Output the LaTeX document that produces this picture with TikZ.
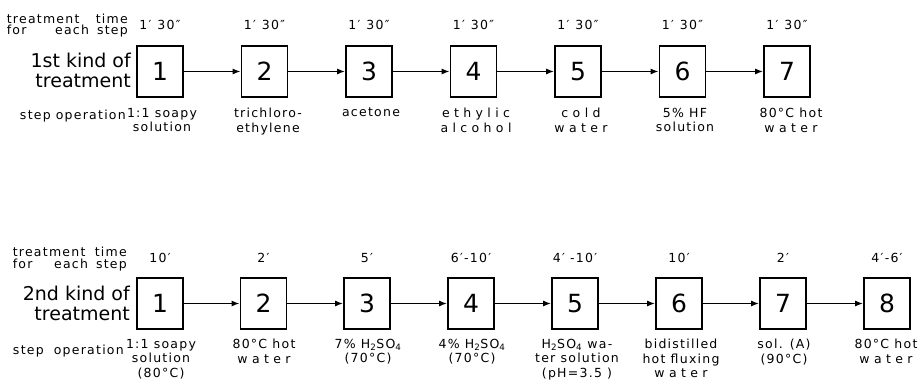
\documentclass[tikz,border=0pt]{standalone}
\usepackage{fontspec}
\setmainfont{DejaVu Sans}
\newfontfamily\lbfont[LetterSpace=10]{DejaVu Sans}
\newfontfamily\wdfont[LetterSpace=35]{DejaVu Sans}
\usetikzlibrary{arrows.meta}

\begin{document}
\begin{tikzpicture}[x=1pt,y=-1pt,
  stepbox/.style={draw, line width=1.7pt, minimum width=46pt, minimum height=51pt,
    inner sep=0pt, font=\fontsize{25}{25}\selectfont},
  flow/.style={line width=1.4pt, -{Latex[length=8pt,width=6pt]}},
  lbl/.style={font=\fontsize{12.5}{14.5}\selectfont\lbfont, align=center,
    inner sep=0pt, anchor=north},
  tlabel/.style={font=\fontsize{12.5}{14}\selectfont\lbfont, inner sep=0pt, anchor=base},
  kind/.style={font=\fontsize{19}{20}\selectfont, inner sep=0pt, anchor=base east},
  head/.style={font=\fontsize{12.5}{12}\selectfont\lbfont, inner sep=0pt, anchor=base east}
]
\useasboundingbox (0,0) rectangle (920,387);

% ---------- first kind of treatment ----------
\node[head] (h1a) at (128,24) {\makebox[121pt][s]{treatment\hfill time}};
\node[head] (h1b) at (128,35) {\makebox[121pt][s]{for\hfill each\hspace{8pt}step}};
\node[kind] (k1a) at (131,68) {1st kind of};
\node[kind] (k1b) at (131,88) {treatment};
\node[head] (s1) at (126,120) {step\hspace{5pt}operation};

\foreach \n/\x in {1/160,2/264.5,3/369,4/473.5,5/578,6/682.5,7/787}{
  \node[stepbox] (a\n) at (\x,71.5) {\n};
  \node[tlabel] (ta\n) at (\x,30) {1′\hspace{6pt}30″};
}
\foreach \i/\j in {1/2,2/3,3/4,4/5,5/6,6/7}{
  \draw[flow] (a\i) -- (a\j);
}
\node[lbl] (la1) at (162,108) {1:1 soapy\\solution};
\node[lbl] (la2) at (268,108) {trichloro-\\ethylene};
\node[lbl] (la3) at (371,108) {acetone};
\node[lbl] (la4) at (476,108) {{\wdfont ethylic}\\{\wdfont alcohol}};
\node[lbl] (la5) at (581,108) {{\wdfont cold}\\{\wdfont water}};
\node[lbl] (la6) at (685,108) {5\% HF\\solution};
\node[lbl] (la7) at (791,108) {80°C hot\\{\wdfont water}};

% ---------- second kind of treatment ----------
\node[head] (h2a) at (127,257) {\makebox[114pt][s]{treatment\hfill time}};
\node[head] (h2b) at (127,268) {\makebox[114pt][s]{for\hfill each\hspace{8pt}step}};
\node[kind] (k2a) at (130,300) {2nd kind of};
\node[kind] (k2b) at (130,320) {treatment};
\node[head] (s2) at (124,354) {step\hspace{10pt}operation};

\foreach \n/\x/\t in {1/160/10′,2/263.5/2′,3/367/5′,4/471/6′-10′,5/575/4′ -10′,
                      6/679/10′,7/783/2′,8/887/4′-6′}{
  \node[stepbox] (b\n) at (\x,303.5) {\n};
  \node[tlabel] (tb\n) at (\x,262) {\t};
}
\foreach \i/\j in {1/2,2/3,3/4,4/5,5/6,6/7,7/8}{
  \draw[flow] (b\i) -- (b\j);
}
\node[lbl] (lb1) at (161,339) {1:1 soapy\\solution\\(80°C)};
\node[lbl] (lb2) at (264,339) {80°C hot\\{\wdfont water}};
\node[lbl] (lb3) at (368,339) {7\% H\textsubscript{2}SO\textsubscript{4}\\(70°C)};
\node[lbl] (lb4) at (472,339) {4\% H\textsubscript{2}SO\textsubscript{4}\\(70°C)};
\node[lbl] (lb5) at (577,339) {H\textsubscript{2}SO\textsubscript{4} wa-\\ter solution\\(pH=3.5 )};
\node[lbl] (lb6) at (681,339) {bidistilled\\hot fluxing\\{\wdfont water}};
\node[lbl] (lb7) at (784,339) {sol. (A)\\(90°C)};
\node[lbl] (lb8) at (886,339) {80°C hot\\{\wdfont water}};
\end{tikzpicture}
\end{document}
